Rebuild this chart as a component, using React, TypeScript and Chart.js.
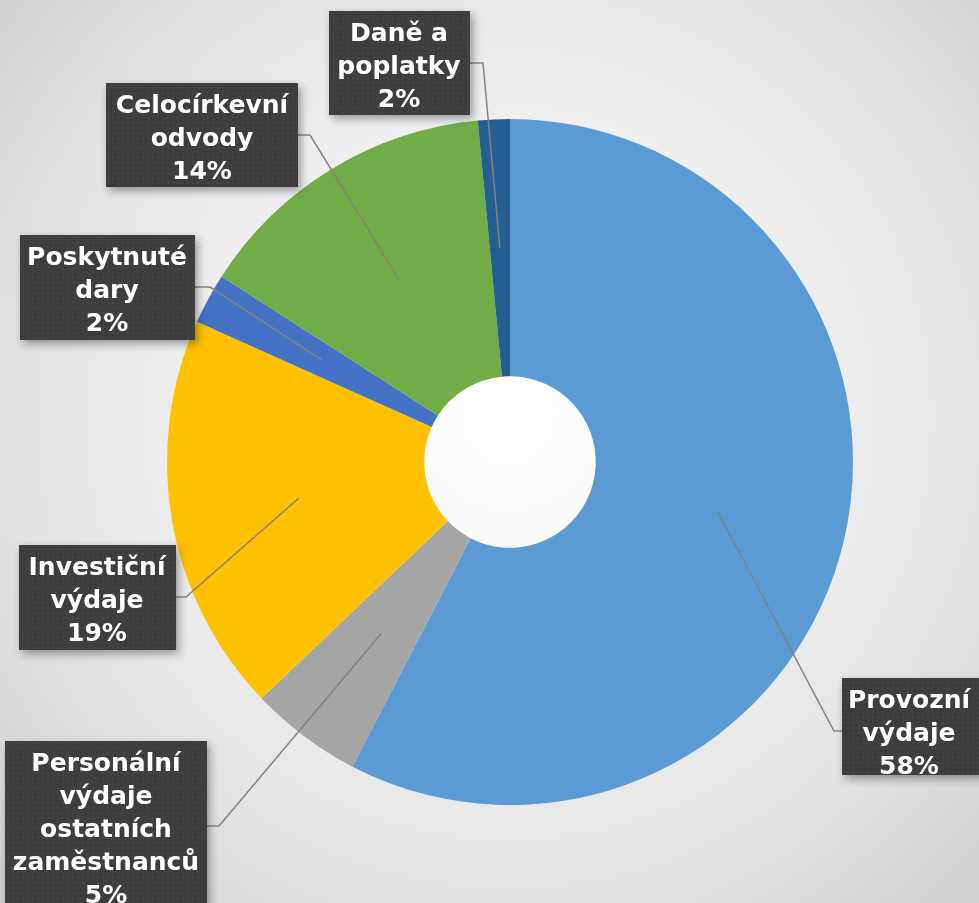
import React, { useEffect, useRef } from "react";
import { Chart, registerables } from "chart.js";

Chart.register(...registerables);

// ---- data ----
const categories: string[][] = [
  ["Provozní", "výdaje"],
  ["Personální", "výdaje", "ostatních", "zaměstnanců"],
  ["Investiční", "výdaje"],
  ["Poskytnuté", "dary"],
  ["Celocírkevní", "odvody"],
  ["Daně a", "poplatky"],
];
const values: number[] = [57.6, 5.3, 18.8, 2.4, 14.4, 1.5];
const colors: string[] = ["#5B9BD5", "#A5A5A5", "#FFC000", "#4472C4", "#70AD47", "#255E91"];

// ---- label box layout ----
const labelBoxes = [
  { x: 842, y: 678, w: 150, h: 97, side: "l", stub: 8, ly: 731, cx: 909 },
  { x: 5, y: 741, w: 202, h: 175, side: "r", stub: 12, ly: 826, cx: 106 },
  { x: 19, y: 545, w: 157, h: 105, side: "r", stub: 10, ly: 597, cx: 97 },
  { x: 20, y: 235, w: 175, h: 105, side: "r", stub: 15, ly: 287, cx: 107 },
  { x: 106, y: 83, w: 192, h: 104, side: "r", stub: 12, ly: 135, cx: 202 },
  { x: 329, y: 11, w: 141, h: 104, side: "r", stub: 13, ly: 63, cx: 399 },
];

function makePattern(ctx: CanvasRenderingContext2D): CanvasPattern | string {
  const c = document.createElement("canvas");
  c.width = 5;
  c.height = 5;
  const p = c.getContext("2d");
  if (!p) return "#3f3f3f";
  p.fillStyle = "#3d3d3d";
  p.fillRect(0, 0, 5, 5);
  p.fillStyle = "#444444";
  p.fillRect(2, 2, 2, 2);
  return ctx.createPattern(c, "repeat") || "#3f3f3f";
}

const labelPlugin = {
  id: "boxLabels",
  afterDraw(chart: any) {
    const ctx: CanvasRenderingContext2D = chart.ctx;
    const meta = chart.getDatasetMeta(0);
    const total = Math.round(values.reduce((a, b) => a + b, 0) * 1000) / 1000;
    const pattern = makePattern(ctx);
    meta.data.forEach((arc: any, i: number) => {
      const b = labelBoxes[i];
      const mid = (arc.startAngle + arc.endAngle) / 2;
      const rr = (arc.innerRadius + arc.outerRadius) / 2;
      const ax = arc.x + Math.cos(mid) * rr;
      const ay = arc.y + Math.sin(mid) * rr;
      const ex = b.side === "r" ? b.x + b.w : b.x;
      const sx = b.side === "r" ? ex + b.stub : ex - b.stub;
      ctx.save();
      ctx.strokeStyle = "#828282";
      ctx.lineWidth = 1.5;
      ctx.beginPath();
      ctx.moveTo(ax, ay);
      ctx.lineTo(sx, b.ly);
      ctx.lineTo(ex, b.ly);
      ctx.stroke();
      ctx.restore();
      ctx.save();
      ctx.shadowColor = "rgba(0,0,0,0.35)";
      ctx.shadowBlur = 8;
      ctx.shadowOffsetX = 3;
      ctx.shadowOffsetY = 4;
      ctx.fillStyle = pattern as any;
      ctx.fillRect(b.x, b.y, b.w, b.h);
      ctx.restore();
      const pct = Math.round(Math.round((values[i] * 1000) / total) / 10);
      const lines = [...categories[i], pct + "%"];
      ctx.save();
      ctx.fillStyle = "#ffffff";
      ctx.font = "bold 25px 'DejaVu Sans'";
      ctx.textAlign = "center";
      ctx.textBaseline = "middle";
      const lh = 33;
      const y0 = b.y + 23;
      lines.forEach((t, k) => ctx.fillText(t, b.cx, y0 + k * lh));
      ctx.restore();
    });
  },
};

export default function App() {
  const ref = useRef<HTMLCanvasElement | null>(null);
  useEffect(() => {
    if (!ref.current) return;
    const chart = new Chart(ref.current, {
      type: "doughnut",
      data: {
        labels: categories.map((c) => c.join(" ")),
        datasets: [
          {
            data: values,
            backgroundColor: colors,
            borderWidth: 0,
          },
        ],
      },
      options: {
        animation: false,
        responsive: false,
        cutout: "25%",
        layout: { padding: { left: 167, right: 126, top: 119, bottom: 98 } },
        plugins: {
          legend: { display: false },
          tooltip: { enabled: false },
        },
      },
      plugins: [labelPlugin],
    });
    return () => chart.destroy();
  }, []);
  return (
    <div
      style={{
        position: "absolute",
        left: 0,
        top: 0,
        width: 979,
        height: 903,
        overflow: "hidden",
        background:
          "radial-gradient(circle farthest-corner at 52% 46%, #ffffff 0%, #f6f6f6 30%, #e6e6e6 62%, #cfcfcf 100%)",
      }}
    >
      <canvas ref={ref} width={979} height={903} style={{ display: "block" }} />
    </div>
  );
}
